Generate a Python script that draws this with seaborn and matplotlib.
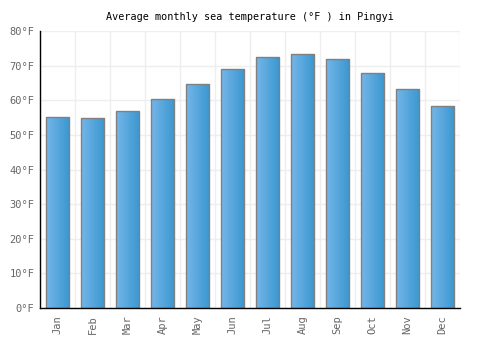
import numpy as np
import matplotlib
matplotlib.use('Agg')
import matplotlib.pyplot as plt
import seaborn as sb
from matplotlib.colors import LinearSegmentedColormap

months = ['Jan', 'Feb', 'Mar', 'Apr', 'May', 'Jun', 'Jul', 'Aug', 'Sep', 'Oct', 'Nov', 'Dec']
temps_f = [55.1, 54.8, 56.8, 60.3, 64.6, 68.9, 72.4, 73.3, 71.8, 67.8, 63.2, 58.2]
y_ticks = [0, 10, 20, 30, 40, 50, 60, 70, 80]
y_labels = [f'{t}°F' for t in y_ticks]

sb.set_style('white')
plt.rcParams['font.family'] = ['DejaVu Sans Mono']

fig = plt.figure(figsize=(5, 3.5), dpi=100)
ax = fig.add_axes([0.08, 0.12, 0.84, 0.7914])

sb.barplot(x=months, y=temps_f, ax=ax, width=0.67, color='#4fa3dc',
           edgecolor='#808080', linewidth=1.0, zorder=2)

# horizontal gradient on each bar
grad = LinearSegmentedColormap.from_list('g', ['#74b6ea', '#3a97cf'])
gimg = np.linspace(0, 1, 64).reshape(1, -1)
for p in ax.patches:
    x0, y0 = p.get_x(), p.get_y()
    w, h = p.get_width(), p.get_height()
    im = ax.imshow(gimg, cmap=grad, aspect='auto', extent=(x0, x0 + w, y0, y0 + h),
                   zorder=2.5)
    im.set_clip_path(p)
    p.set_facecolor('none')
    p.set_zorder(3)

ax.set_xlim(-0.5, len(months) - 0.5)
ax.set_ylim(0, 80)
ax.set_yticks(y_ticks)
ax.set_yticklabels(y_labels)

# gridlines: vertical between categories, horizontal every 10
for k in range(len(months) + 1):
    ax.axvline(k - 0.5, color='#eeeeee', lw=1, zorder=0)
for t in y_ticks:
    ax.axhline(t, color='#eeeeee', lw=1, zorder=0)

for s in ['top', 'right']:
    ax.spines[s].set_visible(False)
for s in ['left', 'bottom']:
    ax.spines[s].set_color('black')
    ax.spines[s].set_linewidth(1)
    ax.spines[s].set_zorder(5)

ax.tick_params(axis='x', rotation=90, labelsize=7.5, colors='#666666', length=0, pad=5)
ax.tick_params(axis='y', labelsize=7.5, colors='#666666', length=0, pad=4)
for lbl in ax.get_xticklabels() + ax.get_yticklabels():
    lbl.set_color('#666666')

ax.set_title('Average monthly sea temperature (°F ) in Pingyi', fontsize=7.3, pad=8,
             color='black')

fig.savefig('out.png', dpi=100)
